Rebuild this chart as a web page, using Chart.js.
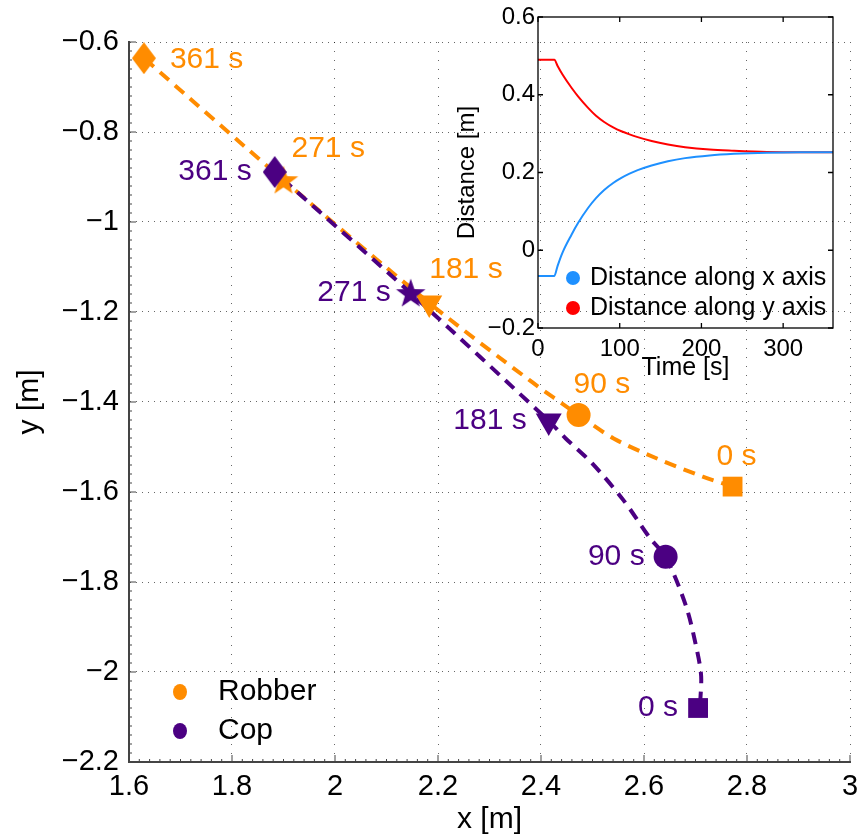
<!DOCTYPE html>
<html>
<head>
<meta charset="utf-8">
<script src="https://cdn.jsdelivr.net/npm/chart.js@4/dist/chart.umd.min.js"></script>
<style>
  body { margin: 0; background: #fff; }
  #wrap { position: relative; width: 865px; height: 838px; }
  #main { position: absolute; left: 0; top: 0; }
  #inset { position: absolute; left: 440px; top: 0; }
</style>
</head>
<body>
<div id="wrap">
  <canvas id="main" width="865" height="838"></canvas>
  <canvas id="inset" width="425" height="385"></canvas>
</div>
<script>
// --- main plot: positions at the sample times
const timeLabels = ['0 s', '90 s', '181 s', '271 s', '361 s']
const robberX = [2.772, 2.473, 2.183, 1.900, 1.629]
const robberY = [-1.588, -1.429, -1.180, -0.907, -0.636]
const copX = [2.705, 2.642, 2.415, 2.147, 1.883]
const copY = [-2.080, -1.744, -1.442, -1.158, -0.889]

// dashed trajectories
const robberPathX = [2.772, 2.714, 2.624, 2.541, 2.473, 2.377, 2.183, 1.900, 1.629]
const robberPathY = [-1.588, -1.566, -1.525, -1.481, -1.429, -1.351, -1.180, -0.907, -0.636]
const copPathX = [2.709, 2.711, 2.704, 2.682, 2.642, 2.612, 2.560, 2.499, 2.448, 2.415, 2.147, 1.883]
const copPathY = [-2.070, -2.010, -1.958, -1.855, -1.744, -1.703, -1.618, -1.536, -1.481, -1.442, -1.158, -0.889]

const xTicks = [1.6, 1.8, 2, 2.2, 2.4, 2.6, 2.8, 3]
const xTickLabels = ['1.6', '1.8', '2', '2.2', '2.4', '2.6', '2.8', '3']
const yTicks = [-2.2, -2, -1.8, -1.6, -1.4, -1.2, -1, -0.8, -0.6]
const yTickLabels = ['\u22122.2', '\u22122', '\u22121.8', '\u22121.6', '\u22121.4', '\u22121.2', '\u22121', '\u22120.8', '\u22120.6']

// --- inset: distance between the two over time
const insetTime = [0, 20, 24, 30, 41, 49, 61, 71, 81, 92, 102, 112, 122, 139, 159, 180, 210, 240, 280, 320, 361]
const distAlongX = [-0.066, -0.066, -0.040, -0.006, 0.040, 0.070, 0.108, 0.134, 0.155, 0.173, 0.186, 0.197, 0.206, 0.218, 0.229, 0.237, 0.244, 0.248, 0.251, 0.252, 0.252]
const distAlongY = [0.490, 0.490, 0.474, 0.452, 0.418, 0.396, 0.367, 0.346, 0.330, 0.316, 0.306, 0.298, 0.291, 0.281, 0.272, 0.265, 0.259, 0.256, 0.253, 0.252, 0.252]
const insetXTicks = [0, 100, 200, 300]
const insetXTickLabels = ['0', '100', '200', '300']
const insetYTicks = [-0.2, 0, 0.2, 0.4, 0.6]
const insetYTickLabels = ['\u22120.2', '0', '0.2', '0.4', '0.6']

const orange = '#ff8c00'
const purple = '#4b0082'
const FONT = "'Liberation Sans', Arial, Helvetica, sans-serif"
Chart.defaults.font.family = FONT
Chart.defaults.color = '#000'

const zip = (xs, ys) => xs.map((x, i) => ({ x, y: ys[i] }))

// filled pentagram and tall diamond, like the matlab markers
function starImage(color) {
  const c = document.createElement('canvas')
  c.width = 32
  c.height = 32
  const g = c.getContext('2d')
  g.fillStyle = color
  g.beginPath()
  for (let i = 0; i < 10; i++) {
    const r = i % 2 ? 6.2 : 15.5
    const a = -Math.PI / 2 + i * Math.PI / 5
    g.lineTo(16 + r * Math.cos(a), 17 + r * Math.sin(a))
  }
  g.closePath()
  g.fill()
  return c
}
function diamondImage(color) {
  const c = document.createElement('canvas')
  c.width = 24
  c.height = 32
  const g = c.getContext('2d')
  g.fillStyle = color
  g.beginPath()
  g.moveTo(12, 0)
  g.lineTo(24, 16)
  g.lineTo(12, 32)
  g.lineTo(0, 16)
  g.closePath()
  g.fill()
  return c
}

function markerSet(label, xs, ys, color, order) {
  return {
    label,
    data: zip(xs, ys),
    order,
    pointStyle: ['rect', 'circle', 'triangle', starImage(color), diamondImage(color)],
    pointRotation: [0, 0, 180, 0, 0],
    pointRadius: [14, 12, 15, 15, 15],
    pointBackgroundColor: color,
    pointBorderWidth: 0,
    showLine: false
  }
}
function pathSet(label, xs, ys, color, order) {
  return {
    label,
    data: zip(xs, ys),
    order,
    showLine: true,
    pointRadius: 0,
    borderColor: color,
    borderWidth: 4,
    borderDash: [12, 8],
    tension: 0.3
  }
}

// inward ticks, time labels and legend for the main axes
const mainExtras = {
  id: 'mainExtras',
  afterDatasetsDraw(chart) {
    const { ctx, chartArea: a, scales: { x, y } } = chart
    ctx.save()
    // inward ticks
    ctx.strokeStyle = '#444'
    ctx.lineWidth = 1
    ctx.beginPath()
    const xp = xTicks.map(v => x.getPixelForValue(v))
    const yp = yTicks.map(v => y.getPixelForValue(v))
    xp.forEach((p, i) => {
      ctx.moveTo(p, a.bottom); ctx.lineTo(p, a.bottom - 7)
      if (i < xp.length - 1) {
        for (let k = 1; k < 10; k++) {
          const q = p + (xp[i + 1] - p) * k / 10
          ctx.moveTo(q, a.bottom); ctx.lineTo(q, a.bottom - 3)
        }
      }
    })
    yp.forEach((p, i) => {
      ctx.moveTo(a.left, p); ctx.lineTo(a.left + 7, p)
      if (i < yp.length - 1) {
        for (let k = 1; k < 10; k++) {
          const q = p + (yp[i + 1] - p) * k / 10
          ctx.moveTo(a.left, q); ctx.lineTo(a.left + 3, q)
        }
      }
    })
    ctx.stroke()

    // time labels next to the markers
    ctx.font = '30px ' + FONT
    ctx.textBaseline = 'middle'
    const robberOff = [[-16, -30], [-5, -30], [0, -33], [8, -31], [26, 2]]
    const copOff = [[-20, 0], [-21, 0], [-22, 0], [-20, 0], [-23, 0]]
    ctx.fillStyle = orange
    ctx.textAlign = 'left'
    timeLabels.forEach((t, i) => {
      ctx.fillText(t, x.getPixelForValue(robberX[i]) + robberOff[i][0], y.getPixelForValue(robberY[i]) + robberOff[i][1])
    })
    ctx.fillStyle = purple
    ctx.textAlign = 'right'
    timeLabels.forEach((t, i) => {
      ctx.fillText(t, x.getPixelForValue(copX[i]) + copOff[i][0], y.getPixelForValue(copY[i]) + copOff[i][1])
    })

    // legend
    const items = [chart.data.datasets[0], chart.data.datasets[1]]
    ctx.textAlign = 'left'
    items.forEach((ds, i) => {
      const cy = 692 + i * 39
      ctx.fillStyle = ds.pointBackgroundColor
      ctx.beginPath()
      ctx.ellipse(180, cy, 7, 8, 0, 0, Math.PI * 2)
      ctx.fill()
      ctx.fillStyle = '#000'
      ctx.fillText(ds.label, 218, cy)
    })
    ctx.restore()
  }
}

new Chart(document.getElementById('main'), {
  type: 'scatter',
  data: {
    datasets: [
      markerSet('Robber', robberX, robberY, orange, 1),
      markerSet('Cop', copX, copY, purple, 0),
      pathSet('Robber path', robberPathX, robberPathY, orange, 3),
      pathSet('Cop path', copPathX, copPathY, purple, 2)
    ]
  },
  options: {
    responsive: false,
    animation: false,
    layout: { padding: { left: 0, top: 42, right: 8, bottom: 0 } },
    plugins: { legend: { display: false }, tooltip: { enabled: false } },
    elements: { line: { borderCapStyle: 'butt' } },
    scales: {
      x: {
        type: 'linear',
        min: 1.6,
        max: 3,
        afterBuildTicks: s => { s.ticks = xTicks.map(v => ({ value: v })) },
        afterFit: s => { s.height = 76; s.paddingLeft = 0; s.paddingRight = 0 },
        ticks: {
          callback: (v, i) => xTickLabels[i],
          font: { size: 29 },
          padding: 8,
          maxRotation: 0
        },
        grid: { color: 'rgba(0,0,0,0.6)', lineWidth: 1, drawTicks: false },
        // in v4 border.dash is the dash of the grid lines
        border: { display: true, color: '#444', width: 2, dash: [1, 8] },
        title: { display: true, text: 'x [m]', font: { size: 30 }, padding: { top: 0, bottom: 0 } }
      },
      y: {
        type: 'linear',
        min: -2.2,
        max: -0.6,
        afterBuildTicks: s => { s.ticks = yTicks.map(v => ({ value: v })) },
        afterFit: s => { s.width = 129; s.paddingTop = 0; s.paddingBottom = 0 },
        ticks: {
          callback: (v, i) => yTickLabels[i],
          font: { size: 29 },
          padding: 10
        },
        grid: { color: 'rgba(0,0,0,0.6)', lineWidth: 1, drawTicks: false },
        border: { display: true, color: '#444', width: 2, dash: [1, 5] },
        title: { display: true, text: 'y [m]', font: { size: 30 }, padding: { top: 12, bottom: 0 } }
      }
    }
  },
  plugins: [mainExtras]
})

// box, inward ticks and legend for the inset
const insetExtras = {
  id: 'insetExtras',
  afterDatasetsDraw(chart) {
    const { ctx, chartArea: a, scales: { x, y } } = chart
    ctx.save()
    ctx.strokeStyle = '#000'
    ctx.lineWidth = 1.3
    ctx.strokeRect(a.left, a.top, a.right - a.left, a.bottom - a.top)
    ctx.beginPath()
    insetXTicks.forEach(v => {
      const p = x.getPixelForValue(v)
      ctx.moveTo(p, a.bottom); ctx.lineTo(p, a.bottom - 5)
      ctx.moveTo(p, a.top); ctx.lineTo(p, a.top + 5)
    })
    insetYTicks.forEach(v => {
      const p = y.getPixelForValue(v)
      ctx.moveTo(a.left, p); ctx.lineTo(a.left + 5, p)
      ctx.moveTo(a.right, p); ctx.lineTo(a.right - 5, p)
    })
    ctx.stroke()

    ctx.font = '25px ' + FONT
    ctx.textBaseline = 'middle'
    ctx.textAlign = 'left'
    chart.data.datasets.forEach((ds, i) => {
      const cy = 278 + i * 30
      ctx.fillStyle = ds.borderColor
      ctx.beginPath()
      ctx.arc(133, cy, 7, 0, Math.PI * 2)
      ctx.fill()
      ctx.fillStyle = '#000'
      ctx.fillText(ds.label, 150, cy)
    })
    ctx.restore()
  }
}

new Chart(document.getElementById('inset'), {
  type: 'scatter',
  data: {
    datasets: [
      {
        label: 'Distance along x axis',
        data: zip(insetTime, distAlongX),
        showLine: true,
        pointRadius: 0,
        borderColor: '#1e90ff',
        borderWidth: 2,
        cubicInterpolationMode: 'monotone'
      },
      {
        label: 'Distance along y axis',
        data: zip(insetTime, distAlongY),
        showLine: true,
        pointRadius: 0,
        borderColor: '#ff0000',
        borderWidth: 2,
        cubicInterpolationMode: 'monotone'
      }
    ]
  },
  options: {
    responsive: false,
    animation: false,
    layout: { padding: { left: 0, top: 17, right: 32, bottom: 0 } },
    plugins: { legend: { display: false }, tooltip: { enabled: false } },
    scales: {
      x: {
        type: 'linear',
        min: 0,
        max: 361,
        afterBuildTicks: s => { s.ticks = insetXTicks.map(v => ({ value: v })) },
        afterFit: s => { s.height = 57; s.paddingLeft = 0; s.paddingRight = 0 },
        ticks: { callback: (v, i) => insetXTickLabels[i], font: { size: 24 }, padding: 7, maxRotation: 0 },
        grid: { display: false, drawTicks: false },
        border: { display: false },
        title: { display: true, text: 'Time [s]', font: { size: 25 }, padding: { top: 0, bottom: 2 } }
      },
      y: {
        type: 'linear',
        min: -0.2,
        max: 0.6,
        afterBuildTicks: s => { s.ticks = insetYTicks.map(v => ({ value: v })) },
        afterFit: s => { s.width = 98; s.paddingTop = 0; s.paddingBottom = 0 },
        ticks: { callback: (v, i) => insetYTickLabels[i], font: { size: 24 }, padding: 3 },
        grid: { display: false, drawTicks: false },
        border: { display: false },
        title: { display: true, text: 'Distance [m]', font: { size: 24 }, padding: { top: 13, bottom: 0 } }
      }
    }
  },
  plugins: [insetExtras]
})
</script>
</body>
</html>
